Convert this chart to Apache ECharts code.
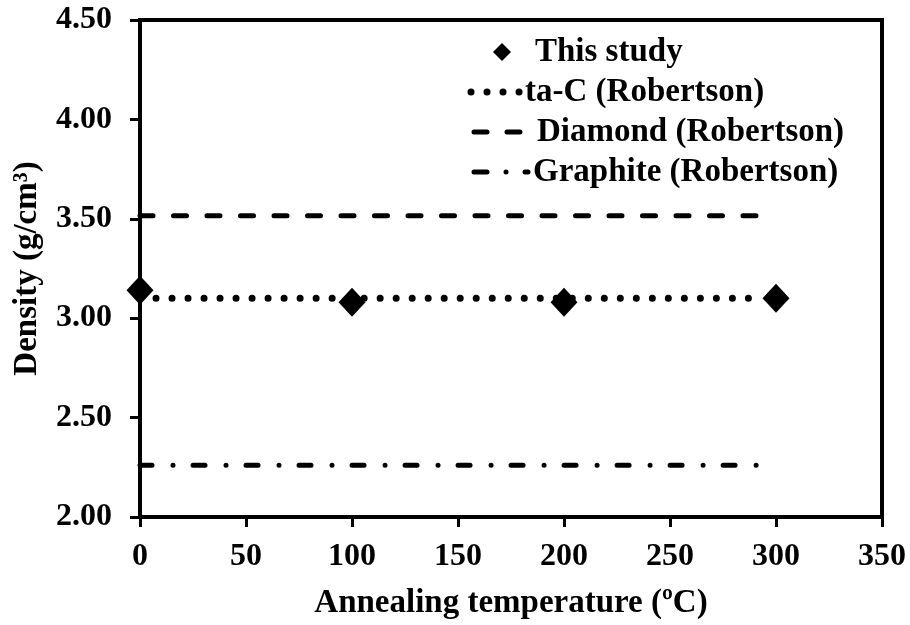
<!DOCTYPE html>
<html>
<head>
<meta charset="utf-8">
<script src="https://cdn.jsdelivr.net/npm/echarts@6/dist/echarts.min.js"></script>
<style>
  html, body { margin: 0; padding: 0; background: #fff; }
  #chart { width: 910px; height: 625px; }
</style>
</head>
<body>
<div id="chart"></div>
<script>
// Measured film density after annealing
const temperatures = [0, 100, 200, 300];
const densities = [3.14, 3.08, 3.08, 3.10];

// Reference densities (Robertson), drawn as horizontal guides
const refStart = 0;
const taCDensity = 3.10;
const diamondDensity = 3.515;
const graphiteDensity = 2.26;
const taCEnd = 290;
const diamondEnd = 293;
const graphiteEnd = 292;

const xTicks = { min: 0, max: 350, step: 50 };
const yTicks = { min: 2.0, max: 4.5, step: 0.5 };

const legendNames = ['This study', 'ta-C (Robertson)', 'Diamond (Robertson)', 'Graphite (Robertson)'];

const FONT = '"Liberation Serif", "Times New Roman", serif';

const chart = echarts.init(document.getElementById('chart'), null, { renderer: 'canvas' });

const axisCommon = {
  axisLine: { show: true, lineStyle: { color: '#000', width: 4 } },
  axisTick: { show: true, inside: false, length: 10, lineStyle: { color: '#000', width: 3 } },
  splitLine: { show: false },
  axisLabel: { color: '#000', fontFamily: FONT, fontWeight: 'bold', fontSize: 32 },
  nameTextStyle: { color: '#000', fontFamily: FONT, fontWeight: 'bold', fontSize: 33 }
};

// Line patterns shared by the plot and the legend keys
const dotStyle = { width: 7, type: [0.01, 16], cap: 'round' };
const dashStyle = { width: 5, type: [13, 20.5], cap: 'round' };
const dashDotStyle = { width: 5, type: [12, 21, 0.01, 20], cap: 'round' };

// Legend drawn inside the plot, top right
const legendX = 472, legendTextX = [535, 525, 537, 533], legendY = [52, 92, 132, 172];
const legendGraphics = [
  { type: 'polygon', shape: { points: [[502, legendY[0] - 9], [511, legendY[0]], [502, legendY[0] + 9], [493, legendY[0]]] },
    style: { fill: '#000' } },
  { type: 'line', shape: { x1: legendX - 1, y1: legendY[1], x2: 521, y2: legendY[1] },
    style: { stroke: '#000', lineWidth: dotStyle.width, lineCap: 'round', lineDash: dotStyle.type } },
  { type: 'line', shape: { x1: legendX + 2, y1: legendY[2], x2: 522, y2: legendY[2] },
    style: { stroke: '#000', lineWidth: dashStyle.width, lineCap: 'round', lineDash: [13, 20] } },
  { type: 'line', shape: { x1: legendX + 2, y1: legendY[3], x2: 528, y2: legendY[3] },
    style: { stroke: '#000', lineWidth: dashDotStyle.width, lineCap: 'round', lineDash: [13, 19, 0.01, 19] } }
];
legendNames.forEach((name, i) => {
  legendGraphics.push({
    type: 'text', x: legendTextX[i], y: legendY[i],
    style: { text: name, fill: '#000', font: 'bold 33px ' + FONT, verticalAlign: 'middle', align: 'left' }
  });
});

chart.setOption({
  backgroundColor: '#fff',
  animation: false,
  grid: { left: 140, right: 28, top: 20, bottom: 108, show: true, borderWidth: 4, borderColor: '#000', backgroundColor: 'transparent' },
  xAxis: Object.assign({}, axisCommon, {
    type: 'value', min: xTicks.min, max: xTicks.max, interval: xTicks.step,
    name: 'Annealing temperature (ºC)', nameLocation: 'middle', nameGap: 70,
    axisLabel: Object.assign({}, axisCommon.axisLabel, { margin: 24 })
  }),
  yAxis: Object.assign({}, axisCommon, {
    type: 'value', min: yTicks.min, max: yTicks.max, interval: yTicks.step,
    name: 'Density (g/cm³)', nameLocation: 'middle', nameGap: 96, nameRotate: 90,
    axisLabel: Object.assign({}, axisCommon.axisLabel, { margin: 28, formatter: v => v.toFixed(2) })
  }),
  series: [
    {
      name: legendNames[1], type: 'line', showSymbol: false, symbol: 'none', z: 2,
      data: [[refStart, taCDensity], [taCEnd, taCDensity]],
      lineStyle: Object.assign({ color: '#000' }, dotStyle)
    },
    {
      name: legendNames[2], type: 'line', showSymbol: false, symbol: 'none', z: 2,
      data: [[refStart, diamondDensity], [diamondEnd, diamondDensity]],
      lineStyle: Object.assign({ color: '#000' }, dashStyle)
    },
    {
      name: legendNames[3], type: 'line', showSymbol: false, symbol: 'none', z: 2,
      data: [[refStart, graphiteDensity], [graphiteEnd, graphiteDensity]],
      lineStyle: Object.assign({ color: '#000' }, dashDotStyle)
    },
    {
      name: legendNames[0], type: 'scatter', symbol: 'diamond', symbolSize: [27, 29], z: 5,
      itemStyle: { color: '#000', opacity: 1 },
      data: temperatures.map((t, i) => [t, densities[i]])
    }
  ],
  graphic: legendGraphics
});
</script>
</body>
</html>
